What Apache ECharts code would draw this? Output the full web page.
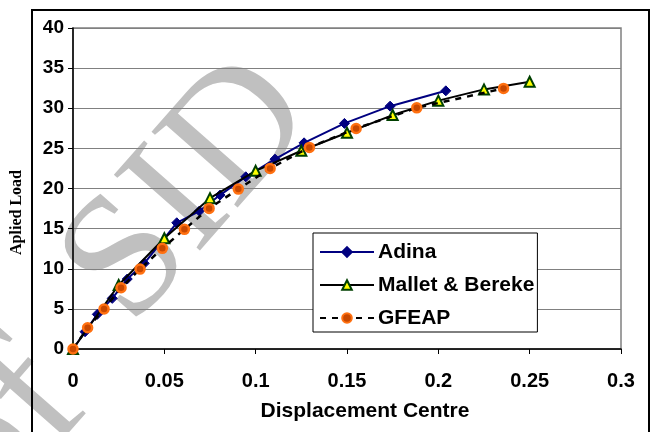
<!DOCTYPE html>
<html><head><meta charset="utf-8">
<script src="https://cdn.jsdelivr.net/npm/echarts@6/dist/echarts.min.js"></script>
<style>html,body{margin:0;padding:0;background:#fff}#c{width:653px;height:432px}</style>
</head><body><div id="c"></div><script>
const seriesNames = ['Adina', 'Mallet & Bereke', 'GFEAP'];
const adinaX = [0, 0.0066, 0.0133, 0.0215, 0.0297, 0.039, 0.0568, 0.0692, 0.0805, 0.0946, 0.1106, 0.1265, 0.1486, 0.1736, 0.2041];
const adinaY = [0, 2.15, 4.32, 6.31, 8.72, 10.67, 15.73, 17.19, 19.18, 21.46, 23.66, 25.69, 28.11, 30.26, 32.17];
const malletX = [0, 0.025, 0.05, 0.075, 0.1, 0.125, 0.15, 0.175, 0.2, 0.225, 0.25];
const malletY = [0, 7.97, 13.8, 18.8, 22.2, 24.7, 26.95, 29.15, 30.95, 32.35, 33.3];
const gfeapX = [0, 0.008, 0.017, 0.0263, 0.0367, 0.0489, 0.061, 0.0745, 0.0905, 0.1079, 0.1294, 0.155, 0.1882, 0.2357];
const gfeapY = [0, 2.65, 4.98, 7.63, 9.96, 12.54, 14.91, 17.52, 19.93, 22.5, 25.12, 27.48, 30.05, 32.47];
const xAxisTitle = 'Displacement Centre';
const yAxisTitle = 'Aplied Load';
const watermarkWords = ['of', 'SID'];

const zip = (a, b) => a.map((v, i) => [v, b[i]]);
const chart = echarts.init(document.getElementById('c'), null, {renderer: 'canvas'});
const sans = 'Liberation Sans, Arial';
const wmStyle = (t) => ({text: t, font: '175px Liberation Serif', fill: '#c0c0c0', align: 'center', verticalAlign: 'middle', textAlign: 'center', textVerticalAlign: 'middle'});
chart.setOption({
  animation: false,
  backgroundColor: '#fff',
  graphic: [
    {type: 'text', z: -10, x: 190, y: 192, rotation: 0.85, style: wmStyle(watermarkWords[1])},
    {type: 'text', z: -10, x: 8, y: 432, rotation: 0.85, style: wmStyle(watermarkWords[0])},
    {type: 'rect', z: -5, shape: {x: 32, y: 10, width: 617, height: 450}, style: {fill: 'none', stroke: '#000', lineWidth: 2}}
  ],
  grid: {left: 73, top: 28, right: 32, bottom: 83, outerBoundsMode: 'none', show: true, borderColor: '#808080', borderWidth: 1.5, backgroundColor: 'transparent'},
  legend: {
    orient: 'vertical', left: 313, top: 233,
    padding: [8, 3, 3, 6], itemGap: 11, itemWidth: 54, itemHeight: 12,
    backgroundColor: '#fff', borderColor: '#000', borderWidth: 1,
    textStyle: {fontFamily: sans, fontWeight: 'bold', fontSize: 21, color: '#000', lineHeight: 22, padding: [0, 0, 0, -1]},
    data: seriesNames
  },
  xAxis: {
    type: 'value', min: 0, max: 0.3, interval: 0.05,
    name: xAxisTitle, nameLocation: 'middle', nameGap: 52,
    nameTextStyle: {fontFamily: sans, fontWeight: 'bold', fontSize: 21, color: '#000', padding: [0, 0, 0, 36]},
    axisLine: {show: true, onZero: false, lineStyle: {color: '#000', width: 1.5}},
    axisTick: {show: true, length: 5, lineStyle: {color: '#000', width: 1}},
    axisLabel: {margin: 22, fontFamily: sans, fontWeight: 'bold', fontSize: 20, color: '#000'},
    splitLine: {show: false}
  },
  yAxis: {
    type: 'value', min: 0, max: 40, interval: 5,
    name: yAxisTitle, nameLocation: 'middle', nameGap: 48,
    nameTextStyle: {fontFamily: 'Liberation Serif, Times New Roman', fontWeight: 'bold', fontSize: 16, color: '#000', padding: [0, 48, 0, 0]},
    axisLine: {show: true, lineStyle: {color: '#000', width: 1.5}},
    axisTick: {show: true, length: 5, lineStyle: {color: '#000', width: 1}},
    axisLabel: {margin: 9, fontFamily: sans, fontWeight: 'bold', fontSize: 19, color: '#000'},
    splitLine: {show: true, lineStyle: {color: '#808080', width: 1}}
  },
  series: [
    {
      name: seriesNames[0], type: 'line', data: zip(adinaX, adinaY), z: 3,
      symbol: 'diamond', symbolSize: 10, showAllSymbol: true,
      lineStyle: {color: '#000080', width: 2},
      itemStyle: {color: '#000080', borderColor: '#000080', borderWidth: 1}
    },
    {
      name: seriesNames[1], type: 'line', data: zip(malletX, malletY), z: 4,
      symbol: 'triangle', symbolSize: 10, showAllSymbol: true,
      lineStyle: {color: '#000', width: 2},
      itemStyle: {color: '#ffff00', borderColor: '#004000', borderWidth: 2}
    },
    {
      name: seriesNames[2], type: 'line', data: zip(gfeapX, gfeapY), z: 5,
      symbol: 'circle', symbolSize: 9, showAllSymbol: true,
      lineStyle: {color: '#000', width: 2.5, type: [6, 6]},
      itemStyle: {color: '#c84800', borderColor: '#ff7010', borderWidth: 2.5}
    }
  ]
});
</script></body></html>
